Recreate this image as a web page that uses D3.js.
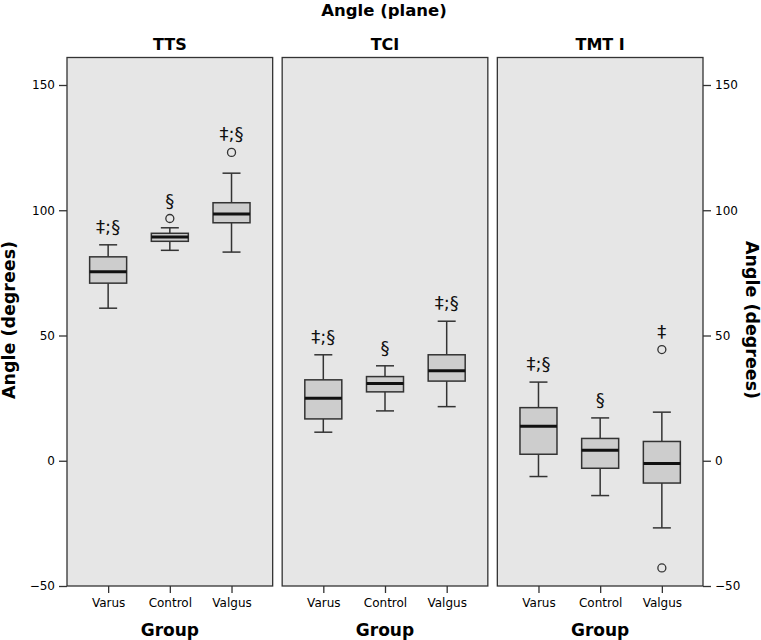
<!DOCTYPE html>
<html><head><meta charset="utf-8">
<script src="https://cdn.jsdelivr.net/npm/d3@7"></script>
<style>body{margin:0;background:#fff}svg{display:block}text{font-family:"DejaVu Sans",sans-serif}</style>
</head><body><svg id="c" width="761" height="640"></svg>
<script>
// ---- data ----
const panels = ["TTS", "TCI", "TMT I"];
const groups = ["Varus", "Control", "Valgus"];
const yTicks = [-50, 0, 50, 100, 150];
// per panel, per group: [lowerWhisker, q1, median, q3, upperWhisker]
const ttsStats   = [[60.9, 70.9, 75.4, 81.4, 86.2], [84.0, 87.6, 89.3, 90.8, 93.0], [83.3, 95.0, 98.5, 103.0, 114.8]];
const tciStats   = [[11.4, 16.7, 25.0, 32.3, 42.3], [19.9, 27.5, 30.8, 33.6, 37.9], [21.6, 31.8, 35.9, 42.3, 55.7]];
const tmtStats   = [[-6.3, 2.6, 13.8, 21.2, 31.4], [-13.9, -3.0, 4.2, 8.9, 17.1], [-26.8, -8.9, -1.1, 7.7, 19.4]];
const ttsOutliers = [[], [96.7], [123.1]];
const tciOutliers = [[], [], []];
const tmtOutliers = [[], [], [44.4, -42.8]];
const ttsMarks = ["‡;§", "§", "‡;§"];
const tciMarks = ["‡;§", "§", "‡;§"];
const tmtMarks = ["‡;§", "§", "‡"];
const allStats = [ttsStats, tciStats, tmtStats];
const allOutliers = [ttsOutliers, tciOutliers, tmtOutliers];
const allMarks = [ttsMarks, tciMarks, tmtMarks];

// ---- layout ----
const svg = d3.select("#c");
const pLeft = 67, pRight = 703, pTop = 57.5, pBottom = 586, gap = 9.5;
const pw = (pRight - pLeft - 2 * gap) / 3;
const y = d3.scaleLinear().domain([-50, 150]).range([pBottom, 85]);
const x0 = i => pLeft + i * (pw + gap);
const stroke = "#333";

svg.append("text").attr("x", 384).attr("y", 16).attr("text-anchor", "middle")
  .attr("font-weight", "bold").attr("font-size", 16.5).text("Angle (plane)");

panels.forEach((p, i) => {
  const g = svg.append("g").attr("transform", `translate(${x0(i)},0)`);
  const x = d3.scalePoint().domain(groups).range([0, pw]).padding(0.667);
  g.append("rect").attr("x", 0).attr("y", pTop).attr("width", pw).attr("height", pBottom - pTop)
    .attr("fill", "#e6e6e6").attr("stroke", stroke).attr("stroke-width", 1.3);
  g.append("text").attr("x", pw / 2).attr("y", 50).attr("text-anchor", "middle")
    .attr("font-weight", "bold").attr("font-size", 16).text(p);
  // x axis
  const xa = g.append("g").attr("transform", `translate(0,${pBottom})`)
    .call(d3.axisBottom(x).tickSize(7).tickSizeOuter(0).tickPadding(5));
  xa.select(".domain").remove();
  xa.selectAll("line").attr("stroke", stroke).attr("stroke-width", 1.3);
  xa.selectAll("text").attr("font-size", 12).attr("fill", "#000").attr("font-family", "DejaVu Sans");
  g.append("text").attr("x", pw / 2).attr("y", 636).attr("text-anchor", "middle")
    .attr("font-weight", "bold").attr("font-size", 17).text("Group");

  const bw = 37, cw = 18;
  groups.forEach((gr, j) => {
    const [lo, q1, med, q3, hi] = allStats[i][j];
    const cx = x(gr);
    const b = g.append("g").attr("stroke", stroke).attr("stroke-width", 1.5);
    b.append("line").attr("x1", cx).attr("x2", cx).attr("y1", y(hi)).attr("y2", y(q3));
    b.append("line").attr("x1", cx).attr("x2", cx).attr("y1", y(q1)).attr("y2", y(lo));
    b.append("line").attr("x1", cx - cw / 2).attr("x2", cx + cw / 2).attr("y1", y(hi)).attr("y2", y(hi));
    b.append("line").attr("x1", cx - cw / 2).attr("x2", cx + cw / 2).attr("y1", y(lo)).attr("y2", y(lo));
    b.append("rect").attr("x", cx - bw / 2).attr("y", y(q3)).attr("width", bw).attr("height", y(q1) - y(q3))
      .attr("fill", "#cdcdcd");
    b.append("line").attr("x1", cx - bw / 2).attr("x2", cx + bw / 2).attr("y1", y(med)).attr("y2", y(med))
      .attr("stroke", "#111").attr("stroke-width", 3);
    allOutliers[i][j].forEach(o => {
      b.append("circle").attr("cx", cx).attr("cy", y(o)).attr("r", 4).attr("fill", "none").attr("stroke-width", 1.3);
    });
    const topVal = d3.max([hi, ...allOutliers[i][j]]);
    g.append("text").attr("x", cx).attr("y", y(topVal) - 12).attr("text-anchor", "middle")
      .attr("font-size", 18).attr("fill", "#111").text(allMarks[i][j]);
  });
});

// y axes
const la = svg.append("g").attr("transform", `translate(${pLeft},0)`)
  .call(d3.axisLeft(y).tickValues(yTicks).tickSize(8).tickPadding(4).tickFormat(d3.format("d")));
la.select(".domain").remove();
la.selectAll("line").attr("stroke", stroke).attr("stroke-width", 1.3);
la.selectAll("text").attr("font-size", 12).attr("fill", "#000").attr("font-family", "DejaVu Sans");
const ra = svg.append("g").attr("transform", `translate(${pRight},0)`)
  .call(d3.axisRight(y).tickValues(yTicks).tickSize(8).tickPadding(4).tickFormat(d3.format("d")));
ra.select(".domain").remove();
ra.selectAll("line").attr("stroke", stroke).attr("stroke-width", 1.3);
ra.selectAll("text").attr("font-size", 12).attr("fill", "#000").attr("font-family", "DejaVu Sans");

svg.append("text").attr("transform", "translate(15,320) rotate(-90)").attr("text-anchor", "middle")
  .attr("font-weight", "bold").attr("font-size", 17.5).text("Angle (degrees)");
svg.append("text").attr("transform", "translate(746,320) rotate(90)").attr("text-anchor", "middle")
  .attr("font-weight", "bold").attr("font-size", 17.5).text("Angle (degrees)");
</script></body></html>
